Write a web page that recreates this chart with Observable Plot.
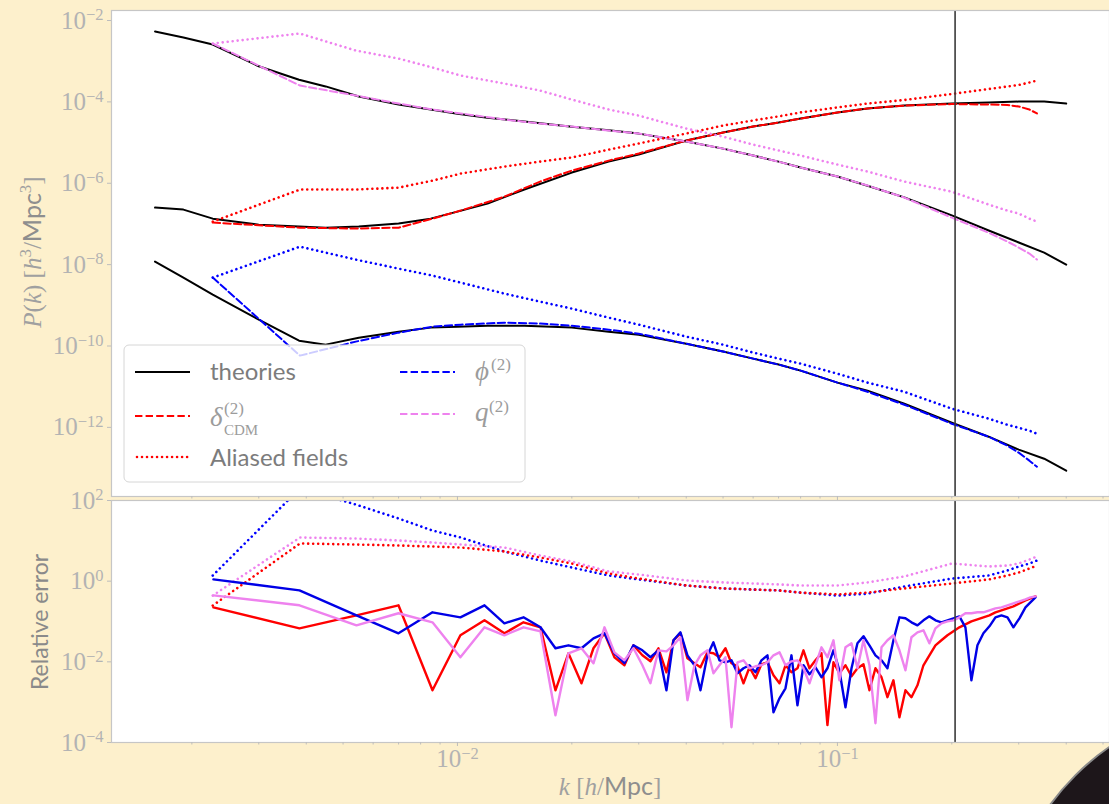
<!DOCTYPE html>
<html><head><meta charset="utf-8">
<script src="https://cdn.jsdelivr.net/npm/d3@7"></script>
<script src="https://cdn.jsdelivr.net/npm/@observablehq/plot@0.6"></script>
<style>
html,body{margin:0;padding:0}
body{background:#fdf0cc;width:1109px;height:804px;overflow:hidden;position:relative}
#topPanel{position:absolute;left:0;top:0}
#botPanel{position:absolute;left:0;top:498px}
#corner{position:absolute;left:1002px;top:702px;width:496px;height:496px;border-radius:50%;background:#1d161a;border:2px solid #8a8a8a;box-sizing:border-box}
</style></head><body>
<div id="topPanel"></div><div id="botPanel"></div><div id="corner"></div>
<script>
// ---------- data ----------
const kTheory = [0.0016, 0.0019, 0.00227, 0.003, 0.00383, 0.0045, 0.0055, 0.007, 0.0085, 0.01, 0.012, 0.015, 0.02, 0.025, 0.03, 0.04, 0.05, 0.06, 0.07, 0.08, 0.1, 0.12, 0.15, 0.2, 0.25, 0.3, 0.35, 0.4];
const thQ = [5.37e-3, 3.82e-3, 2.57e-3, 7.5e-4, 3.5e-4, 2.4e-4, 1.35e-4, 8.6e-5, 6.5e-5, 5.1e-5, 4.1e-5, 3.3e-5, 2.45e-5, 2.0e-5, 1.66e-5, 1.06e-5, 7.1e-6, 4.8e-6, 3.4e-6, 2.43e-6, 1.46e-6, 8.7e-7, 4.5e-7, 1.62e-7, 6.9e-8, 3.5e-8, 1.97e-8, 1.0e-8];
const thDelta = [2.52e-7, 2.25e-7, 1.35e-7, 9.6e-8, 8.6e-8, 8.1e-8, 8.6e-8, 1.02e-7, 1.35e-7, 2.01e-7, 3.16e-7, 7.0e-7, 1.83e-6, 3.4e-6, 5.1e-6, 1.12e-5, 1.76e-5, 2.48e-5, 3.1e-5, 3.9e-5, 5.5e-5, 6.9e-5, 8.1e-5, 9.1e-5, 9.6e-5, 1.02e-4, 1.02e-4, 9.1e-5];
const thPhi = [1.19e-8, 4.8e-9, 1.83e-9, 4.45e-10, 1.35e-10, 1.08e-10, 1.6e-10, 2.25e-10, 2.83e-10, 2.99e-10, 3.16e-10, 3.16e-10, 2.83e-10, 2.25e-10, 1.9e-10, 1.14e-10, 7.3e-11, 4.9e-11, 3.5e-11, 2.48e-11, 1.26e-11, 8.0e-12, 3.8e-12, 1.3e-12, 5.9e-13, 2.83e-13, 1.7e-13, 8.6e-14];

const kMeas = [0.00227, 0.00385, 0.0054, 0.007, 0.0086, 0.0102, 0.0133, 0.0165, 0.02, 0.025, 0.03, 0.04, 0.05, 0.06, 0.07, 0.08, 0.1, 0.12, 0.15, 0.2, 0.25, 0.28, 0.3, 0.32, 0.335];
const measDelta = [1.08e-7, 8.1e-8, 7.7e-8, 8.1e-8, 1.35e-7, 2.13e-7, 4.7e-7, 1.1e-6, 2.05e-6, 3.6e-6, 5.4e-6, 1.12e-5, 1.76e-5, 2.48e-5, 3.1e-5, 3.9e-5, 5.5e-5, 6.9e-5, 8.1e-5, 8.85e-5, 8.6e-5, 8.4e-5, 7.7e-5, 6.5e-5, 5.2e-5];
const aliasDelta = [1.14e-7, 7.0e-7, 7.0e-7, 7.8e-7, 1.16e-6, 1.73e-6, 2.57e-6, 3.4e-6, 4.3e-6, 6.7e-6, 9.5e-6, 1.67e-5, 2.62e-5, 3.5e-5, 4.4e-5, 5.5e-5, 7.3e-5, 9.1e-5, 1.11e-4, 1.56e-4, 2.07e-4, 2.38e-4, 2.6e-4, 3.0e-4, 3.35e-4];
const measPhi = [4.8e-9, 5.8e-11, 1.28e-10, 2.13e-10, 2.99e-10, 3.35e-10, 3.75e-10, 3.55e-10, 3.16e-10, 2.52e-10, 2.01e-10, 1.14e-10, 7.3e-11, 4.9e-11, 3.5e-11, 2.48e-11, 1.26e-11, 7.5e-12, 3.6e-12, 1.23e-12, 5.9e-13, 3.55e-13, 2.39e-13, 1.52e-13, 1.08e-13];
const aliasPhi = [4.8e-9, 2.77e-8, 1.33e-8, 7.98e-9, 5.37e-9, 3.61e-9, 1.94e-9, 1.23e-9, 8.3e-10, 4.98e-10, 3.35e-10, 1.7e-10, 1.08e-10, 6.9e-11, 4.9e-11, 3.68e-11, 2.09e-11, 1.26e-11, 7.5e-12, 2.88e-12, 1.64e-12, 1.16e-12, 9.8e-13, 8.3e-13, 7.0e-13];
const measQ = [2.72e-3, 2.52e-4, 1.43e-4, 9.1e-5, 6.5e-5, 5.2e-5, 3.68e-5, 2.93e-5, 2.48e-5, 1.97e-5, 1.67e-5, 1.06e-5, 7.1e-6, 4.8e-6, 3.4e-6, 2.43e-6, 1.46e-6, 8.8e-7, 4.45e-7, 1.43e-7, 6.1e-8, 3.7e-8, 2.62e-8, 1.87e-8, 1.33e-8];
const aliasQ = [2.72e-3, 4.79e-3, 1.83e-3, 1.16e-3, 7.0e-4, 4.44e-4, 2.82e-4, 1.9e-4, 1.14e-4, 6.5e-5, 4.6e-5, 2.21e-5, 1.4e-5, 8.9e-6, 6.4e-6, 4.8e-6, 2.88e-6, 1.94e-6, 1.1e-6, 6.2e-7, 3.0e-7, 2.13e-7, 1.8e-7, 1.35e-7, 1.14e-7];

const relAliasDelta = [0.249, 8.6, 8.1, 7.66, 7.23, 6.83, 5.44, 3.86, 2.74, 1.55, 1.16, 0.78, 0.66, 0.62, 0.59, 0.52, 0.47, 0.52, 0.66, 0.875, 1.10, 1.38, 1.64, 2.06, 2.44];
const relAliasPhi = [1.38, 199, 79.6, 35.8, 18.0, 12.1, 5.44, 3.25, 2.18, 1.38, 1.10, 0.78, 0.66, 0.62, 0.59, 0.52, 0.44, 0.49, 0.74, 1.16, 1.38, 1.84, 2.31, 2.74, 3.25];
const relAliasQ = [0.44, 12.1, 11.4, 10.2, 9.1, 8.1, 6.83, 4.33, 3.07, 1.74, 1.46, 1.04, 0.93, 0.875, 0.83, 0.78, 0.78, 0.93, 1.31, 2.74, 2.31, 2.44, 2.74, 3.44, 4.09];

const kErr = [0.002279, 0.003839, 0.005423, 0.006995, 0.008596, 0.01018, 0.01178, 0.01329, 0.01492, 0.01654,
  0.01811, 0.01959, 0.02120, 0.02280, 0.02437, 0.02589, 0.02751, 0.02905, 0.03067, 0.03220,
  0.03380, 0.03548, 0.03702, 0.03862, 0.04030, 0.04204, 0.04360, 0.04549, 0.04717, 0.04892,
  0.05074, 0.05262, 0.05457, 0.05659, 0.05869, 0.06086, 0.06310, 0.06545, 0.06787, 0.07039,
  0.07299, 0.07569, 0.07849, 0.08140, 0.08441, 0.08754, 0.09078, 0.09413, 0.09761, 0.1012,
  0.1050, 0.1089, 0.1129, 0.1171, 0.1214, 0.1259, 0.1306, 0.1354, 0.1404, 0.1456,
  0.1510, 0.1566, 0.1624, 0.1684, 0.1746, 0.1811, 0.1878, 0.1948, 0.2020, 0.2094,
  0.2172, 0.2252, 0.2336, 0.2422, 0.2512, 0.2605, 0.2702, 0.2802, 0.2905, 0.3013,
  0.3125, 0.3220, 0.3320];
const errDelta = [0.224, 0.0678, 0.142, 0.252, 0.00197, 0.0455, 0.107, 0.0509, 0.0954, 0.0718,
  0.00197, 0.0163, 0.00294, 0.0217, 0.0509, 0.0130, 0.00822, 0.0257, 0.0145, 0.0103,
  0.0217, 0.00551, 0.0342, 0.0509, 0.0122, 0.00921, 0.00733, 0.0172, 0.0163, 0.0130,
  0.0217, 0.00921, 0.00776, 0.00294, 0.00733, 0.00392, 0.00870, 0.00975, 0.00465, 0.00294,
  0.00822, 0.00551, 0.00692, 0.0193, 0.00692, 0.0109, 0.0163, 0.000269, 0.00975, 0.00521,
  0.00822, 0.00439, 0.00692, 0.00870, 0.00197, 0.00692, 0.00415, 0.00133, 0.00349, 0.000423,
  0.00197, 0.00133, 0.00262, 0.00822, 0.0145, 0.0257, 0.0342, 0.0455, 0.0571, 0.0718,
  0.0851, 0.101, 0.113, 0.127, 0.142, 0.169, 0.189, 0.212, 0.238, 0.282,
  0.334, 0.375, 0.420];
const errPhi = [1.108, 0.592, 0.142, 0.0509, 0.169, 0.127, 0.252, 0.0901, 0.127, 0.0718,
  0.0217, 0.0257, 0.0217, 0.0383, 0.0509, 0.0163, 0.00921, 0.0257, 0.0193, 0.0130,
  0.0193, 0.00197, 0.0342, 0.0539, 0.0145, 0.00822, 0.00197, 0.0145, 0.0305, 0.0109,
  0.00975, 0.0109, 0.00521, 0.00692, 0.00822, 0.00551, 0.0109, 0.0145, 0.000562, 0.00125,
  0.00221, 0.0145, 0.000839, 0.00822, 0.00492, 0.00733, 0.00415, 0.00692, 0.0193, 0.00618,
  0.00075, 0.00692, 0.0288, 0.0430, 0.0257, 0.0145, 0.0109, 0.00692, 0.0342, 0.127,
  0.120, 0.0954, 0.0804, 0.107, 0.134, 0.107, 0.0954, 0.107, 0.120, 0.134,
  0.0718, 0.00349, 0.0257, 0.0509, 0.0760, 0.127, 0.142, 0.127, 0.0718, 0.120,
  0.224, 0.299, 0.397];
const errQ = [0.445, 0.252, 0.0804, 0.160, 0.0954, 0.0130, 0.0718, 0.0455, 0.0718, 0.0571,
  0.000474, 0.0163, 0.0217, 0.00921, 0.0718, 0.0172, 0.0109, 0.0217, 0.00822, 0.00294,
  0.0193, 0.0182, 0.0257, 0.0406, 0.00112, 0.00822, 0.0145, 0.0193, 0.00521, 0.00822,
  0.0130, 0.000239, 0.00975, 0.0109, 0.00692, 0.00776, 0.00822, 0.00975, 0.0145, 0.0172,
  0.00822, 0.0103, 0.0109, 0.00692, 0.00294, 0.00822, 0.0229, 0.0130, 0.0342, 0.00349,
  0.0229, 0.0288, 0.00692, 0.0342, 0.00822, 0.000301, 0.0229, 0.0342, 0.0455, 0.0193,
  0.00618, 0.0406, 0.0539, 0.0604, 0.0288, 0.0678, 0.0901, 0.101, 0.107, 0.127,
  0.160, 0.160, 0.169, 0.169, 0.189, 0.212, 0.224, 0.252, 0.282, 0.316,
  0.354, 0.397, 0.420];

const cutoffK = [0.204];
const topTicks = [1e-12, 1e-10, 1e-8, 1e-6, 1e-4, 1e-2];
const botTicks = [1e-4, 1e-2, 1, 1e2];
const xTicks = [0.01, 0.1];
const xMinor = [0.002, 0.003, 0.004, 0.005, 0.006, 0.007, 0.008, 0.009, 0.02, 0.03, 0.04, 0.05, 0.06, 0.07, 0.08, 0.09, 0.2, 0.3, 0.4, 0.5];

// ---------- styles ----------
const RED = "#ff0000", BLUE = "#0000ff", VIOLET = "#ee82ee";
const xDomain = [0.001229, 0.520];
const dashed = {strokeWidth: 2, strokeDasharray: "7.4,3.2"};
const dotted = {strokeWidth: 2.6, strokeDasharray: "0.01,5", strokeLinecap: "round"};
const ln = (k, v, o) => Plot.line(d3.range(k.length), {x: i => k[i], y: i => v[i], ...o});
const supFmt = d => "10^" + Math.round(Math.log10(d));
const blank = () => "";

function supify(svg) {
  const s = d3.select(svg);
  s.selectAll('g[aria-label$="tick label"]')
    .attr("font-family", "'Liberation Serif', serif")
    .attr("font-size", 25)
    .attr("fill", "#b3b3b3")
    .style("font-variant", "normal");
  s.selectAll('g[aria-label$="tick"]').attr("stroke", "#bdbdbd");
  s.selectAll("text").each(function () {
    const m = /^10\^(-?\d+)$/.exec(this.textContent);
    if (!m) return;
    const t = d3.select(this);
    t.text(null);
    t.append("tspan").text("10");
    t.append("tspan").attr("dy", "-0.5em").attr("font-size", "0.66em").text(m[1].replace("-", "\u2212"));
  });
}

// ---------- top panel ----------
const topChart = Plot.plot({
  width: 1109, height: 498,
  marginLeft: 111, marginRight: 0, marginTop: 10, marginBottom: 2,
  style: {background: "transparent", overflow: "visible"},
  x: {type: "log", domain: xDomain},
  y: {type: "log", domain: [2.0e-14, 1.762e-2]},
  marks: [
    Plot.frame({fill: "white"}),
    ln(kTheory, thQ, {stroke: "black", strokeWidth: 2}),
    ln(kTheory, thDelta, {stroke: "black", strokeWidth: 2}),
    ln(kTheory, thPhi, {stroke: "black", strokeWidth: 2}),
    ln(kMeas, measDelta, {stroke: RED, ...dashed}),
    ln(kMeas, measPhi, {stroke: BLUE, ...dashed}),
    ln(kMeas, measQ, {stroke: VIOLET, ...dashed}),
    ln(kMeas, aliasDelta, {stroke: RED, ...dotted}),
    ln(kMeas, aliasPhi, {stroke: BLUE, ...dotted}),
    ln(kMeas, aliasQ, {stroke: VIOLET, ...dotted}),
    Plot.ruleX(cutoffK, {stroke: "#3a3a3a", strokeWidth: 1.6}),
    Plot.frame({stroke: "#c6c6c6", strokeWidth: 1.2}),
    Plot.axisY(topTicks, {tickSize: 4, tickPadding: 4, tickFormat: supFmt, label: null}),
    Plot.axisX(xTicks, {tickSize: 4, tickFormat: blank, label: null}),
    Plot.axisX(xMinor, {tickSize: 2.5, tickFormat: blank, label: null})
  ]
});
document.getElementById("topPanel").append(topChart);
supify(topChart);

{
  const s = d3.select(topChart);
  // y-axis label
  const t = s.append("text").attr("transform", "translate(41,252) rotate(-90)")
    .attr("text-anchor", "middle").attr("fill", "#a0a0a0").attr("font-size", 25)
    .attr("font-family", "'Liberation Serif', serif");
  t.append("tspan").attr("font-style", "italic").text("P");
  t.append("tspan").text("(");
  t.append("tspan").attr("font-style", "italic").text("k");
  t.append("tspan").text(") [");
  t.append("tspan").attr("font-style", "italic").text("h");
  t.append("tspan").attr("dy", -10).attr("font-size", 17).text("3");
  t.append("tspan").attr("dy", 10).text("/");
  t.append("tspan").attr("font-family", "Lato, sans-serif").attr("fill", "#8e8e8e").text("Mpc");
  t.append("tspan").attr("dy", -10).attr("font-size", 17).text("3");
  t.append("tspan").attr("dy", 10).text("]");

  // legend
  const g = s.append("g").attr("text-anchor", "start");
  g.append("rect").attr("x", 124).attr("y", 345).attr("width", 401).attr("height", 137)
    .attr("rx", 5).attr("fill", "white").attr("fill-opacity", 0.8).attr("stroke", "#d6d6d6");
  const entries = [
    {x: 135, y: 372, stroke: "black", dash: null, w: 2, cap: "butt"},
    {x: 135, y: 416, stroke: RED, dash: "7.4,3.2", w: 2, cap: "butt"},
    {x: 137, y: 457, stroke: RED, dash: "0.01,5", w: 2.6, cap: "round"},
    {x: 400, y: 372, stroke: BLUE, dash: "7.4,3.2", w: 2, cap: "butt"},
    {x: 400, y: 414, stroke: VIOLET, dash: "7.4,3.2", w: 2, cap: "butt"}
  ];
  for (const e of entries) {
    g.append("line").attr("x1", e.x).attr("x2", e.x + 55).attr("y1", e.y).attr("y2", e.y)
      .attr("stroke", e.stroke).attr("stroke-width", e.w).attr("stroke-dasharray", e.dash)
      .attr("stroke-linecap", e.cap);
  }
  const sansFam = "Lato, sans-serif", sansFill = "#7c7c7c";
  g.append("text").attr("x", 210).attr("y", 380).attr("font-family", sansFam).attr("font-size", 24).attr("fill", sansFill).text("theories");
  g.append("text").attr("x", 210).attr("y", 466).attr("font-family", sansFam).attr("font-size", 24).attr("fill", sansFill).text("Aliased fields");
  const serif = "'Liberation Serif', serif", mfill = "#9c9c9c";
  g.append("text").attr("x", 210).attr("y", 426).attr("font-family", serif).attr("font-style", "italic").attr("font-size", 27).attr("fill", mfill).text("δ");
  g.append("text").attr("x", 224).attr("y", 414).attr("font-family", serif).attr("font-size", 17).attr("fill", mfill).text("(2)");
  g.append("text").attr("x", 224).attr("y", 435).attr("font-family", serif).attr("font-size", 15).attr("fill", mfill).text("CDM");
  g.append("text").attr("x", 475).attr("y", 380).attr("font-family", serif).attr("font-style", "italic").attr("font-size", 27).attr("fill", mfill).text("ϕ");
  g.append("text").attr("x", 491).attr("y", 370).attr("font-family", serif).attr("font-size", 17).attr("fill", mfill).text("(2)");
  g.append("text").attr("x", 475).attr("y", 421).attr("font-family", serif).attr("font-style", "italic").attr("font-size", 27).attr("fill", mfill).text("q");
  g.append("text").attr("x", 489).attr("y", 412).attr("font-family", serif).attr("font-size", 17).attr("fill", mfill).text("(2)");
}

// ---------- bottom panel ----------
const botChart = Plot.plot({
  width: 1109, height: 306,
  marginLeft: 111, marginRight: 0, marginTop: 2, marginBottom: 62,
  style: {background: "transparent", overflow: "visible"},
  x: {type: "log", domain: xDomain},
  y: {type: "log", domain: [1e-4, 1e2]},
  marks: [
    Plot.frame({fill: "white"}),
    ln(kMeas, relAliasPhi, {stroke: BLUE, ...dotted, clip: true}),
    ln(kMeas, relAliasDelta, {stroke: RED, ...dotted, clip: true}),
    ln(kMeas, relAliasQ, {stroke: VIOLET, ...dotted, clip: true}),
    ln(kErr, errDelta, {stroke: RED, strokeWidth: 2.4, clip: true}),
    ln(kErr, errPhi, {stroke: "#0000e6", strokeWidth: 2.4, clip: true}),
    ln(kErr, errQ, {stroke: VIOLET, strokeWidth: 2.4, clip: true}),
    Plot.ruleX(cutoffK, {stroke: "#3a3a3a", strokeWidth: 1.6}),
    Plot.frame({stroke: "#c6c6c6", strokeWidth: 1.2}),
    Plot.axisY(botTicks, {tickSize: 4, tickPadding: 4, tickFormat: supFmt, label: null}),
    Plot.axisX(xTicks, {tickSize: 4, tickPadding: 3, tickFormat: supFmt, label: null}),
    Plot.axisX(xMinor, {tickSize: 2.5, tickFormat: blank, label: null})
  ]
});
document.getElementById("botPanel").append(botChart);
supify(botChart);

{
  const s = d3.select(botChart);
  s.append("text").attr("transform", "translate(48,124) rotate(-90)")
    .attr("text-anchor", "middle").attr("fill", "#8a8a8a").attr("font-size", 23)
    .attr("font-family", "Lato, sans-serif").text("Relative error");
  const t = s.append("text").attr("x", 610).attr("y", 297).attr("text-anchor", "middle")
    .attr("fill", "#a0a0a0").attr("font-size", 25).attr("font-family", "'Liberation Serif', serif");
  t.append("tspan").attr("font-style", "italic").text("k");
  t.append("tspan").text(" [");
  t.append("tspan").attr("font-style", "italic").text("h");
  t.append("tspan").text("/");
  t.append("tspan").attr("font-family", "Lato, sans-serif").attr("fill", "#8e8e8e").text("Mpc");
  t.append("tspan").text("]");
}
</script>
</body></html>
